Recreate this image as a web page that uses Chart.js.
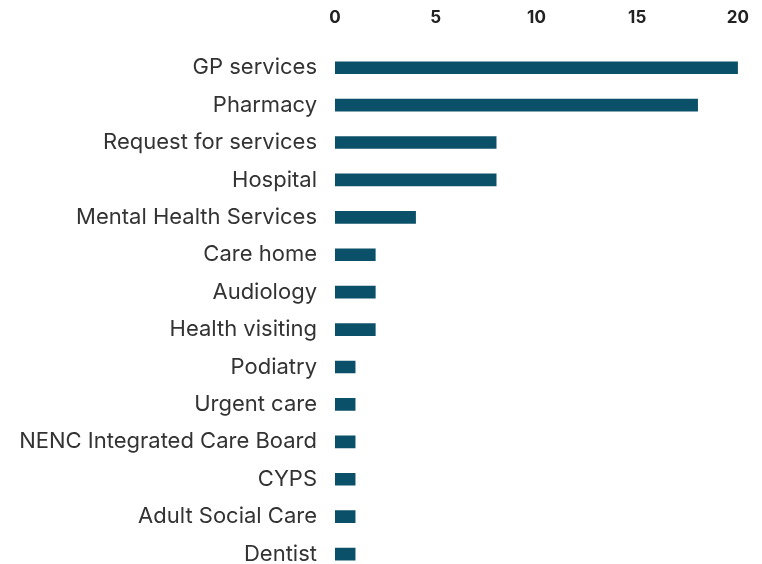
<!DOCTYPE html>
<html>
<head>
<meta charset="utf-8">
<script src="https://cdn.jsdelivr.net/npm/chart.js@4.4.1/dist/chart.umd.min.js"></script>
<style>
  html, body { margin: 0; padding: 0; background: #fff; overflow: hidden; }
  #wrap { position: relative; width: 762px; height: 596px; }
</style>
</head>
<body>
<div id="wrap"><canvas id="servicesChart"></canvas></div>
<script>
// --- data ---
const services = [
    'GP services', 'Pharmacy', 'Request for services', 'Hospital',
    'Mental Health Services', 'Care home', 'Audiology', 'Health visiting',
    'Podiatry', 'Urgent care', 'NENC Integrated Care Board', 'CYPS',
    'Adult Social Care', 'Dentist'
];
const counts = [20, 18, 8, 8, 4, 2, 2, 2, 1, 1, 1, 1, 1, 1];
const xTicks = [0, 5, 10, 15, 20];

document.addEventListener("DOMContentLoaded", function () {
    const ctx = document.getElementById('servicesChart');
    new Chart(ctx, {
        type: 'bar',
        data: {
            labels: services,
            datasets: [{
                data: counts,
                backgroundColor: '#0b5069',
                barThickness: 12
            }]
        },
        options: {
            indexAxis: 'y',
            responsive: true,
            maintainAspectRatio: false,
            animation: false,
            layout: { padding: { top: 0, right: 24, bottom: 0, left: 0 } },
            plugins: { legend: { display: false }, tooltip: { enabled: false } },
            scales: {
                x: {
                    position: 'top',
                    min: 0,
                    max: 20,
                    afterBuildTicks: (axis) => { axis.ticks = xTicks.map(v => ({ value: v })); },
                    afterFit: (axis) => { axis.height = 49; },
                    grid: { display: false },
                    border: { display: false },
                    ticks: {
                        color: '#222',
                        padding: 13,
                        font: { family: 'Inter', size: 17, weight: 'bold' }
                    }
                },
                y: {
                    afterFit: (axis) => { axis.width = 335; },
                    grid: { display: false },
                    border: { display: false },
                    ticks: {
                        color: '#333',
                        padding: 10,
                        font: { family: 'Inter', size: 22 }
                    }
                }
            }
        }
    });
});
</script>
</body>
</html>
